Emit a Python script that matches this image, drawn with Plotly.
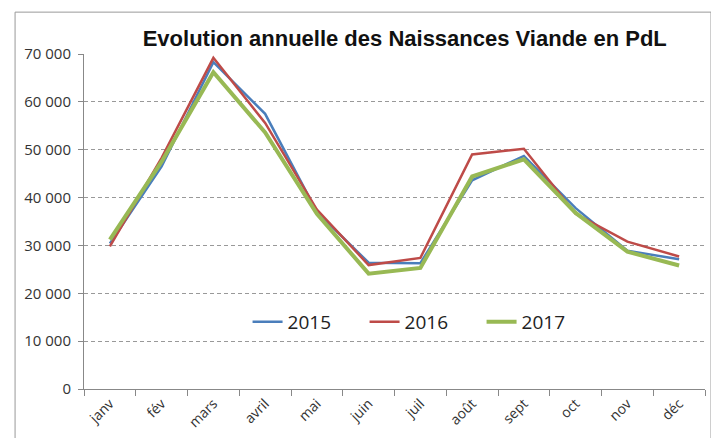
import plotly.graph_objects as go

months = ["janv", "fév", "mars", "avril", "mai", "juin", "juil", "août", "sept", "oct", "nov", "déc"]
y2015 = [30400, 46500, 68300, 57500, 37000, 26400, 26300, 43600, 48700, 37800, 28900, 27100]
y2016 = [29800, 48300, 69200, 55600, 37500, 25900, 27400, 49000, 50200, 36600, 30800, 27700]
y2017 = [31200, 47500, 66200, 53600, 36600, 24100, 25300, 44400, 48000, 36800, 28700, 25800]
ytickvals = [0, 10000, 20000, 30000, 40000, 50000, 60000, 70000]
yticktext = ["0", "10 000", "20 000", "30 000", "40 000", "50 000", "60 000", "70 000"]

fig = go.Figure()
fig.add_trace(go.Scatter(x=months, y=y2015, name="2015", mode="lines",
                         line=dict(color="#4A7EBB", width=2.5)))
fig.add_trace(go.Scatter(x=months, y=y2016, name="2016", mode="lines",
                         line=dict(color="#BE4B48", width=2.5)))
fig.add_trace(go.Scatter(x=months, y=y2017, name="2017", mode="lines",
                         line=dict(color="#98B954", width=4)))

fig.update_layout(
    width=711, height=430,
    margin=dict(l=76, r=14, t=46, b=49),
    paper_bgcolor="white", plot_bgcolor="white",
    title=dict(text="<b>Evolution annuelle des Naissances Viande en PdL</b>",
               x=0.558, xanchor="center", y=0.930, yanchor="middle",
               font=dict(family="Liberation Sans, Arial", size=22, color="#111")),
    legend=dict(orientation="h", x=0.546, xanchor="center", y=0.2, yanchor="middle",
                font=dict(family="Liberation Sans Narrow, Open Sans", size=19, color="#222"),
                bgcolor="rgba(0,0,0,0)", itemwidth=30, entrywidth=72),
    font=dict(family="Open Sans, Liberation Sans", color="#333"),
    showlegend=True,
)
fig.update_xaxes(
    type="category", range=[-0.5, 11.5], tickson="boundaries", ticks="outside", ticklen=6,
    tickcolor="#888", showline=True, linecolor="#888", linewidth=1,
    showgrid=False, tickangle=-45, tickfont=dict(size=14, color="#333"),
    automargin=False,
)
fig.update_yaxes(
    range=[0, 70000], tickvals=ytickvals, ticktext=yticktext,
    ticks="outside", ticklen=5, tickcolor="#888",
    showline=True, linecolor="#888", linewidth=1,
    showgrid=True, gridcolor="#999", griddash="4px,3px", gridwidth=1,
    tickfont=dict(size=15, color="#333"), zeroline=False, automargin=False,
    ticklabelstandoff=4,
)
fig.add_shape(type="rect", xref="paper", yref="paper",
              x0=-0.111, x1=1.0097, y0=-0.3, y1=1.125,
              line=dict(color="#999", width=1), fillcolor="rgba(0,0,0,0)", layer="below")

fig.write_html("out.html")
